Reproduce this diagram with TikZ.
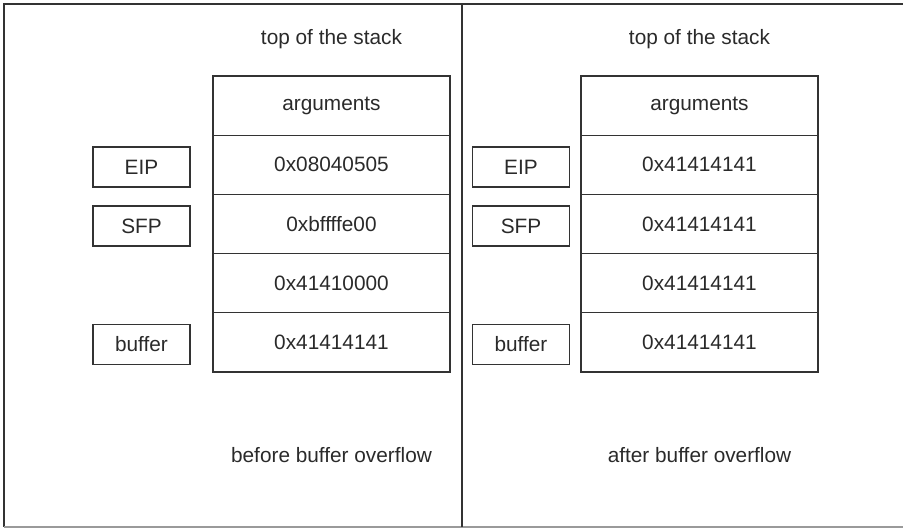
\documentclass[tikz,border=0pt]{standalone}
\usepackage{fontspec}
\setmainfont{Liberation Sans}
\definecolor{ink}{HTML}{333333}
\definecolor{txt}{HTML}{2A2A2A}
\definecolor{framegray}{HTML}{9A9A9A}
\tikzset{
  cell/.style={draw=ink, line width=1.3pt, minimum width=237pt, minimum height=59.2pt, inner sep=0pt, text=txt, font=\fontsize{20.8}{24}\selectfont},
  tag/.style={draw=ink, line width=1.3pt, minimum width=97pt, minimum height=40pt, inner sep=0pt, text=txt, font=\fontsize{20.8}{24}\selectfont},
  caption/.style={text=txt, inner sep=0pt, font=\fontsize{20.8}{24}\selectfont},
}
\begin{document}
\begin{tikzpicture}[x=1pt,y=-1pt]
\useasboundingbox (0,0) rectangle (903,528);
% frame
\coordinate (tl) at (4,4);
\coordinate (tr) at (903,4);
\coordinate (bl) at (4,527);
\coordinate (br) at (903,527);
\coordinate (dt) at (462,4);
\coordinate (db) at (462,527);
\draw[ink, line width=1.5pt] (tr) -- (tl) -- (bl);
\draw[framegray, line width=1.5pt] (bl) -- (br);
\draw[ink, line width=1.5pt] (dt) -- (db);
% left stack
\node[caption] (ltop) at (331.5,39) {top of the stack};
\node[cell] (l1) at (331.5,105.6) {arguments};
\node[cell] (l2) at (331.5,164.8) {0x08040505};
\node[cell] (l3) at (331.5,224.0) {0xbffffe00};
\node[cell] (l4) at (331.5,283.2) {0x41410000};
\node[cell] (l5) at (331.5,342.4) {0x41414141};
\node[tag] (leip) at (141.5,167) {EIP};
\node[tag] (lsfp) at (141.5,226) {SFP};
\node[tag] (lbuf) at (141.5,344.5) {buffer};
\node[caption] (lcap) at (331.5,455) {before buffer overflow};
% right stack
\node[caption] (rtop) at (699.5,39) {top of the stack};
\node[cell] (r1) at (699.5,105.6) {arguments};
\node[cell] (r2) at (699.5,164.8) {0x41414141};
\node[cell] (r3) at (699.5,224.0) {0x41414141};
\node[cell] (r4) at (699.5,283.2) {0x41414141};
\node[cell] (r5) at (699.5,342.4) {0x41414141};
\node[tag] (reip) at (521,167) {EIP};
\node[tag] (rsfp) at (521,226) {SFP};
\node[tag] (rbuf) at (521,344.5) {buffer};
\node[caption] (rcap) at (699.5,455) {after buffer overflow};
\end{tikzpicture}
\end{document}
